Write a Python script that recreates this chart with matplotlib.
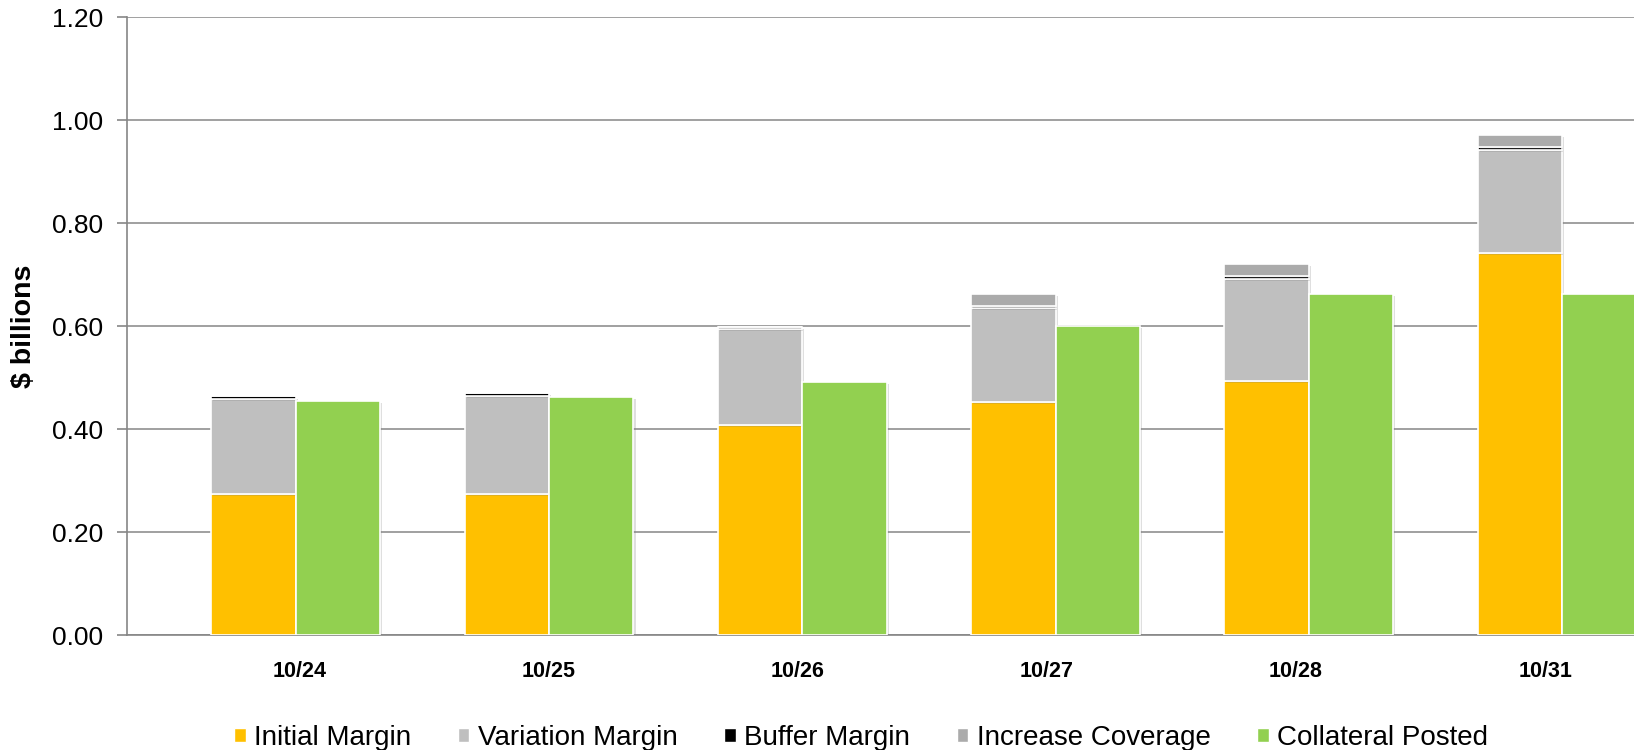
import numpy as np
import matplotlib.pyplot as plt
import matplotlib.patheffects as pe
from matplotlib.patches import Patch

plt.rcParams['font.family'] = ['Liberation Sans', 'DejaVu Sans']

# margin requirements vs collateral posted, $ billions
dates = ['10/24', '10/25', '10/26', '10/27', '10/28', '10/31']
initial_margin = [0.275, 0.275, 0.408, 0.452, 0.493, 0.743]
variation_margin = [0.184, 0.190, 0.186, 0.183, 0.199, 0.200]
buffer_margin = [0.0045, 0.0045, 0.0045, 0.005, 0.005, 0.005]
increase_coverage = [0.0, 0.0, 0.0, 0.023, 0.024, 0.024]
collateral_posted = [0.455, 0.462, 0.491, 0.601, 0.662, 0.662]

colors = {
    'Initial Margin': '#FFC000',
    'Variation Margin': '#BFBFBF',
    'Buffer Margin': '#000000',
    'Increase Coverage': '#ABABAB',
    'Collateral Posted': '#92D050',
}

fig = plt.figure(figsize=(16.34, 7.5), dpi=100)
ax = fig.add_axes([127 / 1634, 0.1533, 1 - 127 / 1634, 0.8234])

x = np.arange(len(dates))
w = 1 / 3
shadow = [pe.SimplePatchShadow(offset=(1.5, -1.5), shadow_rgbFace='#808080', alpha=0.25), pe.Normal()]
bar_kw = dict(width=w, edgecolor='white', linewidth=1.2, zorder=3)

bottom = np.zeros(len(dates))
for name, vals in [('Initial Margin', initial_margin),
                   ('Variation Margin', variation_margin),
                   ('Buffer Margin', buffer_margin),
                   ('Increase Coverage', increase_coverage)]:
    bars = ax.bar(x, vals, bottom=bottom, color=colors[name], **bar_kw)
    for b in bars:
        b.set_path_effects(shadow)
    bottom += np.array(vals)

bars = ax.bar(x + w, collateral_posted, color=colors['Collateral Posted'], **bar_kw)
for b in bars:
    b.set_path_effects(shadow)

ax.set_xlim(-0.5, 5.451)
ax.set_ylim(0, 1.2)
ax.set_yticks(np.arange(0, 1.21, 0.2))
ax.set_yticklabels([f'{v:.2f}' for v in np.arange(0, 1.21, 0.2)], fontsize=19)

# date labels sit on a slightly tighter spacing than the bar groups
ax.set_xticks(x * 0.984 + 0.18)
ax.set_xticklabels(dates, fontsize=15.5, fontweight='bold')
ax.tick_params(axis='x', length=0, pad=19)
ax.tick_params(axis='y', length=7, width=1.2, color='#868686', pad=10)

ax.yaxis.grid(True, color='#868686', linewidth=1.1, zorder=0)
ax.set_axisbelow(True)
for side in ['top', 'right']:
    ax.spines[side].set_visible(False)
for side in ['left', 'bottom']:
    ax.spines[side].set_color('#868686')
    ax.spines[side].set_linewidth(1.2)

ax.set_ylabel('$ billions', fontsize=20.5, fontweight='bold')
ax.yaxis.set_label_coords(-0.0597, 0.5)

handles = [Patch(facecolor=c, edgecolor='white', label=n) for n, c in colors.items()]
fig.legend(handles=handles, loc='center', bbox_to_anchor=(0.527, 0.016), ncol=5,
           frameon=False, fontsize=20, handlelength=0.42, handleheight=0.42,
           handletextpad=0.3, columnspacing=1.68)

fig.savefig('out.png', dpi=100)
